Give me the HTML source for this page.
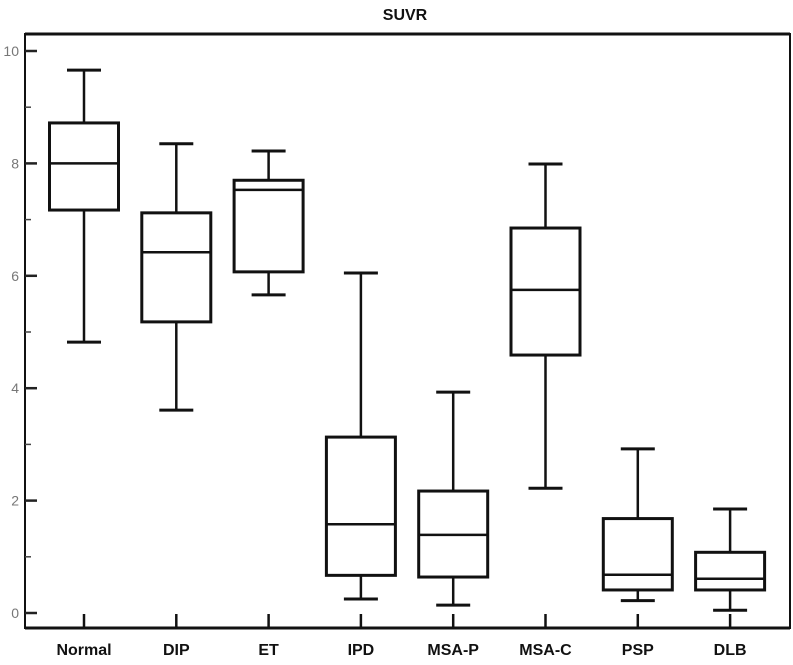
<!DOCTYPE html>
<html><head><meta charset="utf-8"><style>
body{margin:0;background:#fff;}
svg{display:block;font-family:"Liberation Sans",Arial,sans-serif;}
</style></head><body>
<svg id="chart" width="793" height="665" viewBox="0 0 793 665">
<text x="405" y="20" font-size="16" font-weight="bold" text-anchor="middle" fill="#111">SUVR</text>
<g id="frame"></g>
<g id="marks"></g>
</svg>
<script>
const categories = ["Normal","DIP","ET","IPD","MSA-P","MSA-C","PSP","DLB"];
const whiskerLow = [4.82,3.61,5.66,0.25,0.14,2.22,0.22,0.05];
const q1 = [7.17,5.18,6.07,0.67,0.64,4.59,0.41,0.41];
const medians = [8.0,6.42,7.53,1.58,1.39,5.75,0.68,0.61];
const q3 = [8.72,7.12,7.7,3.13,2.17,6.85,1.68,1.08];
const whiskerHigh = [9.66,8.35,8.22,6.05,3.93,7.99,2.92,1.85];
const yTicks = [0,2,4,6,8,10];
const yMinor = [1,3,5,7,9];

const NS="http://www.w3.org/2000/svg";
const y = v => 613 - v*56.2;
const x = i => 84 + i*92.3;
function mk(tag, attrs, parent){const e=document.createElementNS(NS,tag);for(const k in attrs)e.setAttribute(k,attrs[k]);parent.appendChild(e);return e;}
const frame=document.getElementById('frame'), marks=document.getElementById('marks');

let fr=mk('path',{d:'M25,34 H790 V628 H25 Z',fill:'none',stroke:'#111','stroke-width':2},frame);


mk('line',{x1:25,y1:34,x2:790,y2:34,stroke:'#111','stroke-width':3},frame);
mk('line',{x1:25,y1:628,x2:790,y2:628,stroke:'#111','stroke-width':3},frame);

yTicks.forEach(v=>{
  const t=mk('line',{x1:25,x2:37,y1:y(v),y2:y(v),stroke:'#222','stroke-width':2.5},frame);
  
  
  const l=mk('text',{x:19,y:y(v)+5,'font-size':14,'text-anchor':'end',fill:'#777'},frame);
  l.textContent=v;
  
  
});
yMinor.forEach(v=>{
  const t=mk('line',{x1:25,x2:31,y1:y(v),y2:y(v),stroke:'#444','stroke-width':1.5},frame);
  
  
});

categories.forEach((c,i)=>{
  const cx=x(i), hw=34.5, cw=17;
  const g=mk('g',{},marks);
  
  
  mk('line',{x1:cx,x2:cx,y1:y(whiskerHigh[i]),y2:y(q3[i]),stroke:'#111','stroke-width':2.5},g);
  mk('line',{x1:cx,x2:cx,y1:y(q1[i]),y2:y(whiskerLow[i]),stroke:'#111','stroke-width':2.5},g);
  mk('line',{x1:cx-cw,x2:cx+cw,y1:y(whiskerHigh[i]),y2:y(whiskerHigh[i]),stroke:'#111','stroke-width':3},g);
  mk('line',{x1:cx-cw,x2:cx+cw,y1:y(whiskerLow[i]),y2:y(whiskerLow[i]),stroke:'#111','stroke-width':3},g);
  mk('rect',{x:cx-hw,y:y(q3[i]),width:hw*2,height:y(q1[i])-y(q3[i]),fill:'#fff',stroke:'#111','stroke-width':3},g);
  mk('line',{x1:cx-hw,x2:cx+hw,y1:y(medians[i]),y2:y(medians[i]),stroke:'#111','stroke-width':2.5},g);
  const t=mk('line',{x1:cx,x2:cx,y1:614,y2:628,stroke:'#111','stroke-width':2.5},frame);
  
  
  const l=mk('text',{x:cx,y:655,'font-size':16,'font-weight':'bold','text-anchor':'middle',fill:'#111'},frame);
  l.textContent=c;
  
  
});
</script>
</body></html>
